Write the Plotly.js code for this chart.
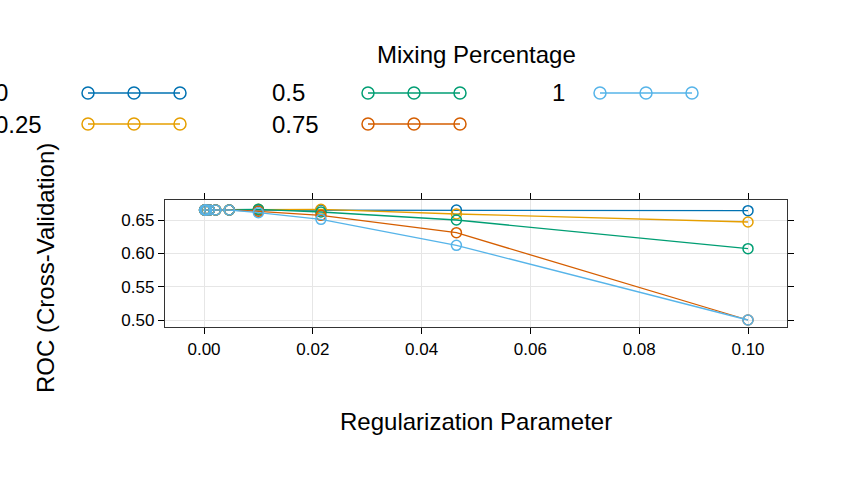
<!DOCTYPE html>
<html><head><script src="https://cdn.plot.ly/plotly-3.0.1.min.js"></script></head>
<body style="margin:0"><div id="chart" style="width:864px;height:480px"></div>
<script>
const lambda = [0.0001, 0.000215, 0.000464, 0.001, 0.00215, 0.00464, 0.01, 0.0215, 0.0464, 0.1];
const mixLabels = ['0', '0.25', '0.5', '0.75', '1'];
const colors = ['#0072B2', '#E69F00', '#009E73', '#D55E00', '#56B4E9'];
const roc = [
  [0.665, 0.665, 0.665, 0.665, 0.665, 0.665, 0.665, 0.665, 0.665, 0.664],
  [0.665, 0.665, 0.665, 0.665, 0.665, 0.665, 0.666, 0.666, 0.659, 0.647],
  [0.665, 0.665, 0.665, 0.665, 0.665, 0.665, 0.666, 0.662, 0.650, 0.607],
  [0.665, 0.665, 0.665, 0.665, 0.665, 0.665, 0.663, 0.657, 0.631, 0.500],
  [0.665, 0.665, 0.665, 0.665, 0.665, 0.665, 0.661, 0.651, 0.612, 0.500]
];

const traces = roc.map((r, i) => ({
  x: lambda, y: r, type: 'scatter', mode: 'lines+markers', name: mixLabels[i],
  line: {color: colors[i], width: 1.3},
  marker: {symbol: 'circle-open', size: 10, color: colors[i], line: {width: 1.5}},
  showlegend: false, cliponaxis: false
}));

// pixel -> paper helpers (plot area 165..787 x 200..327)
const px = p => (p - 165) / 622;
const py = p => (327 - p) / 127;

const annotations = [
  {text: 'Mixing Percentage', x: px(476), y: py(55)},
  {text: 'Regularization Parameter', x: px(476), y: py(421)},
  {text: 'ROC (Cross-Validation)', x: px(45), y: py(268), textangle: -90}
];
const shapes = [];
const leg = [
  {lab: 0, tx: -7, ty: 93, lx: 88},
  {lab: 1, tx: -7, ty: 124, lx: 88},
  {lab: 2, tx: 270, ty: 93, lx: 368},
  {lab: 3, tx: 270, ty: 124, lx: 368},
  {lab: 4, tx: 550, ty: 93, lx: 600}
];
leg.forEach(l => {
  annotations.push({text: mixLabels[l.lab], x: px(l.tx), y: py(l.ty), xanchor: 'left'});
  shapes.push({type: 'line', xref: 'paper', yref: 'paper', x0: px(l.lx), x1: px(l.lx + 92),
    y0: py(l.ty), y1: py(l.ty), line: {color: colors[l.lab], width: 1.3}});
  [0, 46, 92].forEach(d => shapes.push({type: 'circle', xref: 'paper', yref: 'paper',
    x0: px(l.lx + d - 6), x1: px(l.lx + d + 6), y0: py(l.ty + 6), y1: py(l.ty - 6),
    line: {color: colors[l.lab], width: 1.5}}));
});
annotations.forEach(a => Object.assign(a, {xref: 'paper', yref: 'paper', showarrow: false,
  font: {size: 24, color: '#000'}, yanchor: 'middle', xanchor: a.xanchor || 'center'}));

const axis = {showline: true, linecolor: '#333', linewidth: 1.2, mirror: 'ticks', ticks: 'outside',
  ticklen: 6, tickcolor: '#000', gridcolor: '#e6e6e6', zeroline: false, tickfont: {size: 17, color: '#000'}};

Plotly.newPlot('chart', traces, {
  width: 864, height: 480,
  margin: {l: 165, r: 77, t: 200, b: 153},
  font: {family: 'Liberation Sans, Arial, sans-serif', color: '#000'},
  paper_bgcolor: '#fff', plot_bgcolor: '#fff',
  xaxis: Object.assign({}, axis, {range: [-0.00717, 0.10717], tickvals: [0, 0.02, 0.04, 0.06, 0.08, 0.1],
    ticktext: ['0.00', '0.02', '0.04', '0.06', '0.08', '0.10']}),
  yaxis: Object.assign({}, axis, {range: [0.4895, 0.68], tickvals: [0.5, 0.55, 0.6, 0.65],
    ticktext: ['0.50', '0.55', '0.60', '0.65']}),
  annotations: annotations, shapes: shapes
}, {staticPlot: true});
</script></body></html>
